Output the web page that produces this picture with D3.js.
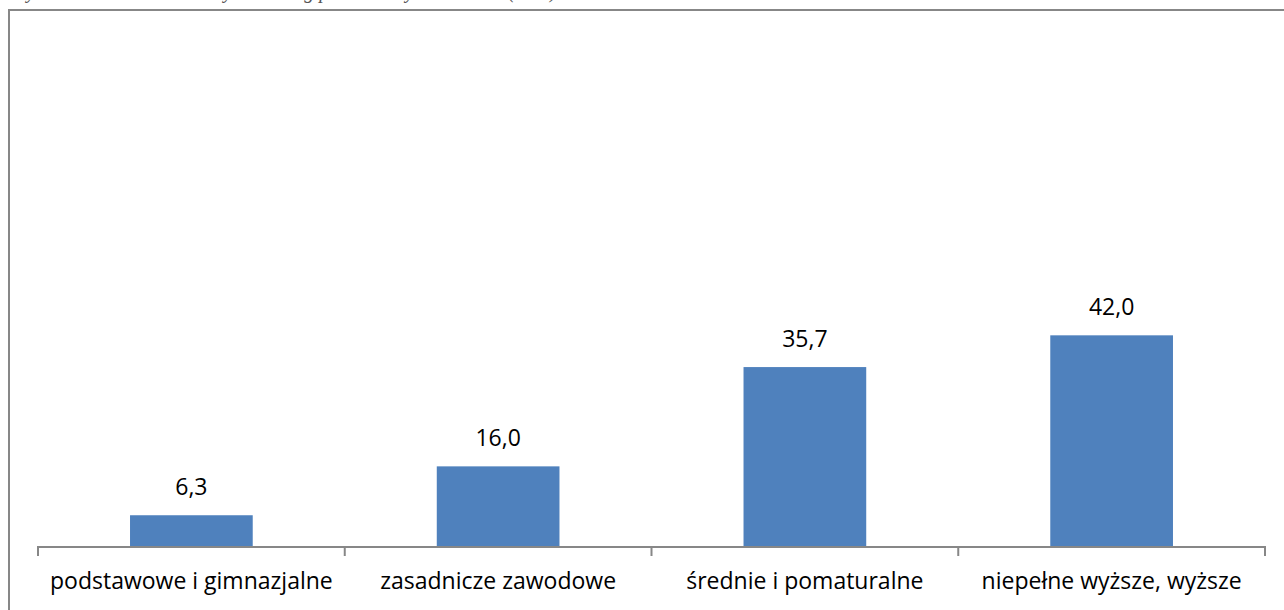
<!DOCTYPE html>
<html>
<head>
<meta charset="utf-8">
<script src="https://cdn.jsdelivr.net/npm/d3@7"></script>
<style>
	body { margin: 0; background: #fff; }
	svg { display: block; }
	text { font-family: "Open Sans", "Noto Sans", sans-serif; fill: #000; }
</style>
</head>
<body>
<div id="chart"></div>
<script>
var kategorie = ["podstawowe i gimnazjalne", "zasadnicze zawodowe", "średnie i pomaturalne", "niepełne wyższe, wyższe"];
var wartosci = [6.3, 16.0, 35.7, 42.0];
var podpis = "Wykres 3. Struktura badanych według poziomu wykształcenia (w %)";

var W = 1284, H = 610;
var svg = d3.select("#chart").append("svg").attr("width", W).attr("height", H);

// podpis nad wykresem (ucięty jak w oryginale)
svg.append("text")
	.attr("x", 12).attr("y", -2)
	.style("font-family", "'Liberation Serif', serif")
	.style("font-style", "italic")
	.style("font-size", "20px")
	.style("fill", "#555")
	.text(podpis);

// ramka
svg.append("rect")
	.attr("x", 9).attr("y", 10)
	.attr("width", W + 20).attr("height", H + 20)
	.attr("fill", "none").attr("stroke", "#878787").attr("stroke-width", 2);

var x = d3.scaleBand().domain(kategorie).range([38, 1265]).paddingInner(0.6).paddingOuter(0.3);
var y = d3.scaleLinear().domain([0, 100]).range([547, 43]);

svg.selectAll("rect.bar").data(wartosci).enter().append("rect")
	.attr("class", "bar")
	.attr("x", function(d, i){ return x(kategorie[i]); })
	.attr("y", function(d){ return y(d); })
	.attr("width", x.bandwidth())
	.attr("height", function(d){ return y(0) - y(d); })
	.attr("fill", "#4F81BD");

svg.selectAll("text.val").data(wartosci).enter().append("text")
	.attr("class", "val")
	.attr("x", function(d, i){ return x(kategorie[i]) + x.bandwidth() / 2; })
	.attr("y", function(d){ return y(d) - 20; })
	.attr("text-anchor", "middle")
	.style("font-size", "23px")
	.text(function(d){ return d.toFixed(1).replace(".", ","); });

// os X z kreskami na granicach kategorii
var g = svg.append("g").attr("transform", "translate(0," + y(0) + ")");
g.append("line").attr("x1", 38).attr("x2", 1265).attr("stroke", "#878787").attr("stroke-width", 2);
var granice = d3.range(kategorie.length + 1).map(function(i){ return 38 + i * x.step(); });
g.selectAll("line.tick").data(granice).enter().append("line")
	.attr("class", "tick")
	.attr("x1", function(d){ return d; }).attr("x2", function(d){ return d; })
	.attr("y1", -1).attr("y2", 9)
	.attr("stroke", "#878787").attr("stroke-width", 2);

g.selectAll("text.cat").data(kategorie).enter().append("text")
	.attr("class", "cat")
	.attr("x", function(d){ return x(d) + x.bandwidth() / 2; })
	.attr("y", 42)
	.attr("text-anchor", "middle")
	.style("font-size", "23px")
	.text(function(d){ return d; });
</script>
</body>
</html>
